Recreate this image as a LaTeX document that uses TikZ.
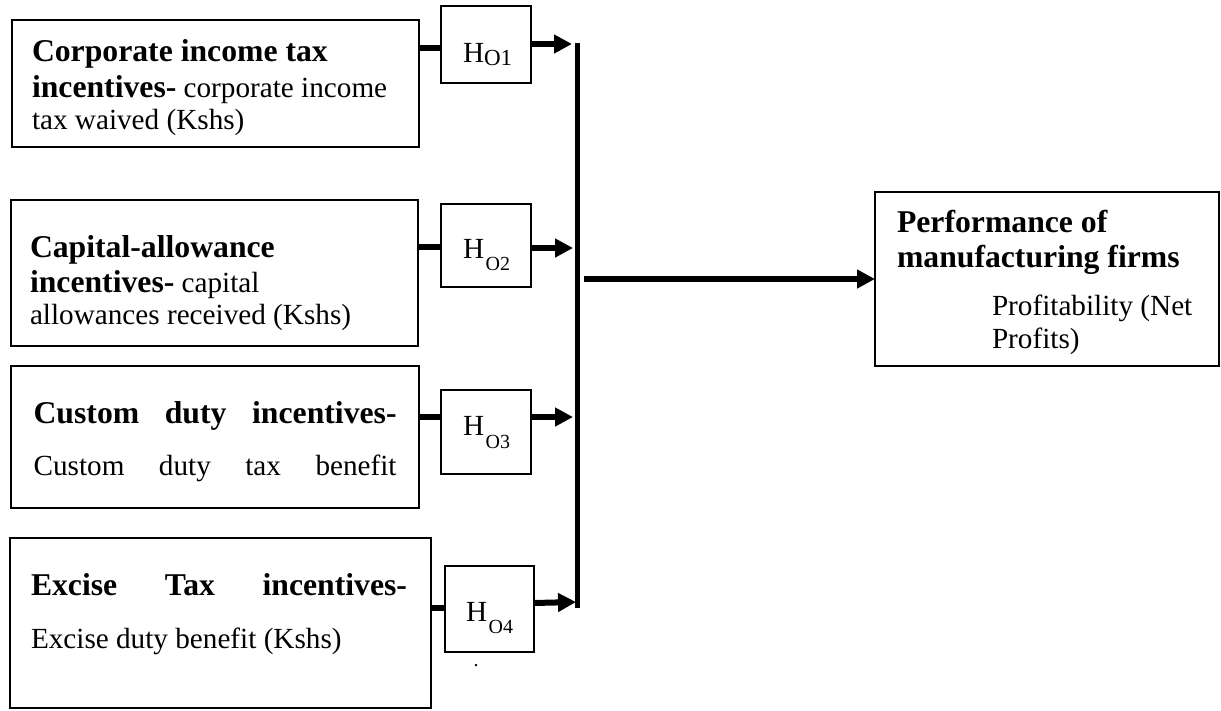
\documentclass[tikz,border=0pt]{standalone}
\usepackage{fontspec}
\setmainfont{Liberation Serif}
\usetikzlibrary{arrows.meta}
\newcommand{\rgfont}{\fontsize{29.2}{33}\selectfont\mdseries}
\newcommand{\bdfont}{\fontsize{31.7}{36}\selectfont\bfseries}
\newcommand{\subfontA}{\fontsize{23}{23}\selectfont\mdseries}
\newcommand{\subfontB}{\fontsize{20}{20}\selectfont\mdseries}
\begin{document}
\begin{tikzpicture}[x=1pt,y=-1pt,
  bigbox/.style={draw, line width=1.8pt, inner sep=0pt, outer sep=0pt, anchor=north west},
  hbox/.style={draw, line width=1.3pt, inner sep=0pt, outer sep=0pt, anchor=north west},
  txt/.style={inner sep=0pt, outer sep=0pt, anchor=base west, font=\rgfont},
  conn/.style={line width=6pt},
  trunk/.style={line width=5pt},
  arr/.style={line width=6pt, -{Triangle[length=18pt,width=18pt]}},
]
\fill[white] (0,0) rectangle (1221,710);
\useasboundingbox (0,0) rectangle (1221,710);

% input boxes
\node[bigbox, minimum width=407pt, minimum height=127pt] (b1) at (12,20) {};
\node[bigbox, minimum width=407pt, minimum height=146pt] (b2) at (11,200) {};
\node[bigbox, minimum width=408pt, minimum height=142pt] (b3) at (11,366) {};
\node[bigbox, minimum width=421pt, minimum height=170pt] (b4) at (10,538) {};
% outcome box
\node[bigbox, minimum width=344pt, minimum height=174pt] (perf) at (875,192) {};

% hypothesis boxes
\node[hbox, minimum width=90pt, minimum height=77pt] (h1) at (441,6) {};
\node[hbox, minimum width=90pt, minimum height=83pt] (h2) at (441,204) {};
\node[hbox, minimum width=90pt, minimum height=84pt] (h3) at (441,390) {};
\node[hbox, minimum width=89pt, minimum height=86pt] (h4) at (445,566) {};

% texts of box 1
\node[txt] (b1l1) at (32,61) {\bdfont Corporate income tax};
\node[txt] (b1l2) at (32,97) {\bdfont incentives-\rgfont{} corporate income};
\node[txt] (b1l3) at (32,129) {tax waived (Kshs)};
% texts of box 2
\node[txt] (b2l1) at (30,257) {\bdfont Capital-allowance};
\node[txt] (b2l2) at (30,292) {\bdfont incentives-\rgfont{} capital};
\node[txt] (b2l3) at (30,324) {allowances received (Kshs)};
% texts of box 3
\node[txt] (b3l1) at (33.6,423) {\hbox to 363pt{\bdfont Custom\hfill duty\hfill incentives-}};
\node[txt] (b3l2) at (33.6,475) {\hbox to 363pt{\rgfont Custom\hfill duty\hfill tax\hfill benefit}};
% texts of box 4
\node[txt] (b4l1) at (31,595) {\hbox to 376pt{\bdfont Excise\hfill Tax\hfill incentives-}};
\node[txt] (b4l2) at (31,648) {Excise duty benefit (Kshs)};
% texts of outcome box
\node[txt] (pl1) at (897,232) {\bdfont Performance of};
\node[txt] (pl2) at (897,267) {\bdfont manufacturing firms};
\node[txt] (pl3) at (992,315) {Profitability (Net};
\node[txt] (pl4) at (992,348) {Profits)};

% hypothesis labels
\node[txt] (h1t) at (463,62) {H\raisebox{-3pt}{\subfontA O1}};
\node[txt] (h2t) at (463,258) {H\hspace{1.5pt}\raisebox{-12pt}{\subfontB O2}};
\node[txt] (h3t) at (463,435) {H\hspace{1.5pt}\raisebox{-13pt}{\subfontB O3}};
\node[txt] (h4t) at (466,621) {H\hspace{1.5pt}\raisebox{-12pt}{\subfontB O4}};
\node[inner sep=0pt, anchor=base, font=\subfontB] (dot) at (476,666) {.};

% coordinates
\coordinate (s1) at (0,48);
\coordinate (s2) at (0,247);
\coordinate (s3) at (0,417);
\coordinate (s4) at (0,608);
\coordinate (a1) at (572,44);
\coordinate (a2) at (573,248);
\coordinate (a3) at (573,417);
\coordinate (a4) at (576,602);
\coordinate (ttop) at (577,43);
\coordinate (tbot) at (577,608);
\coordinate (m0) at (584,279);

% connectors
\draw[conn] (b1.east |- s1) -- (h1.west |- s1);
\draw[conn] (b2.east |- s2) -- (h2.west |- s2);
\draw[conn] (b3.east |- s3) -- (h3.west |- s3);
\draw[conn] (b4.east |- s4) -- (h4.west |- s4);
\draw[arr] (h1.east |- a1) -- (a1);
\draw[arr] (h2.east |- a2) -- (a2);
\draw[arr] (h3.east |- a3) -- (a3);
\draw[arr] (h4.east |- 0,603) -- (a4);
\draw[trunk] (ttop) -- (tbot);
\draw[arr] (m0) -- (perf.west |- m0);
\end{tikzpicture}
\end{document}
